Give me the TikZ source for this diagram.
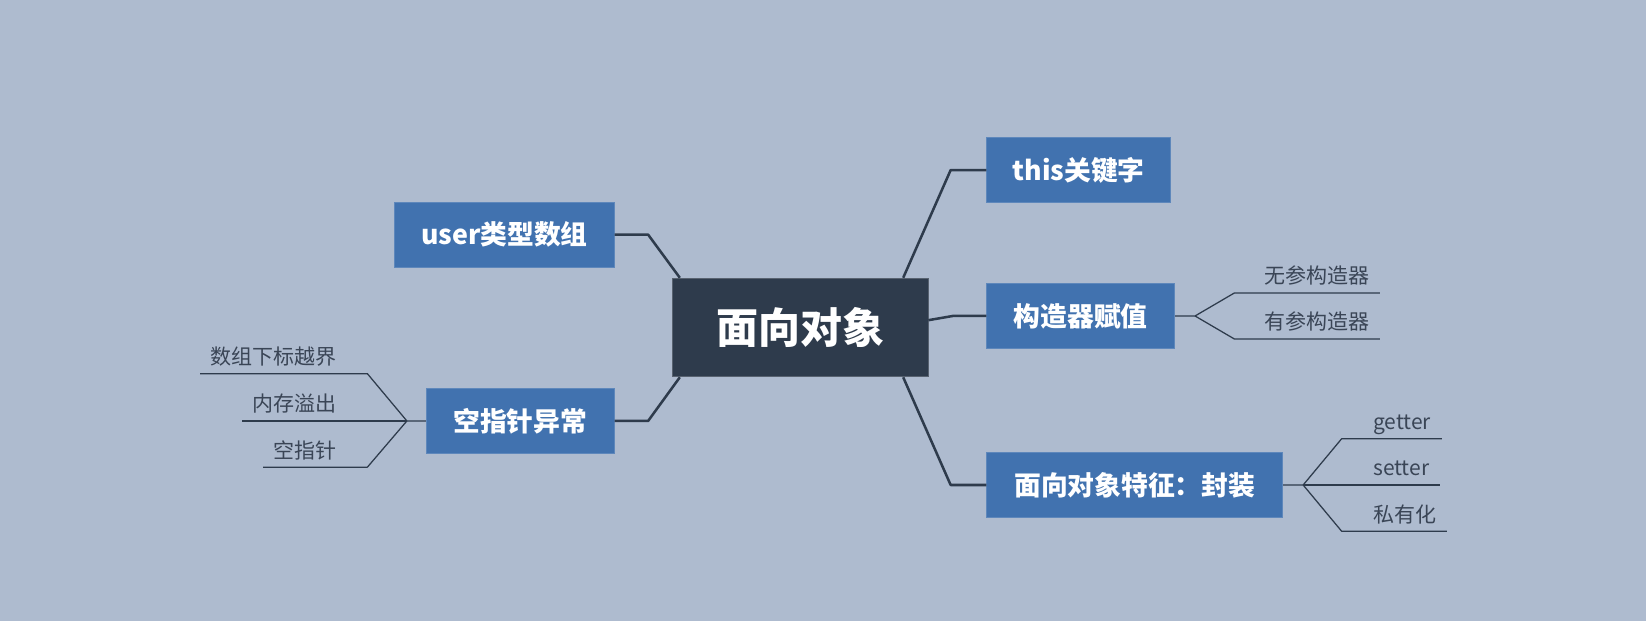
\documentclass[tikz,border=0pt]{standalone}
\usepackage{fontspec}
\setmainfont{Noto Sans CJK SC}
\usepackage{tikz}
\usetikzlibrary{positioning}

\definecolor{bgcol}{RGB}{174,187,207}
\definecolor{topicblue}{RGB}{65,114,175}
\definecolor{rootdark}{RGB}{46,59,76}
\definecolor{leaftext}{RGB}{58,69,86}

\begin{document}
\begin{tikzpicture}[x=1pt, y=-1pt,
    root/.style={fill=rootdark, draw=rootdark!80!white, line width=0.8pt, text=white,
        font=\fontsize{40}{46}\selectfont\bfseries, minimum width=243pt, minimum height=94pt},
    topic/.style={fill=topicblue, draw=topicblue!85!white, line width=0.8pt, text=white,
        font=\fontsize{25.5}{30}\selectfont\bfseries, minimum height=62pt},
    leaf/.style={text=leaftext, font=\fontsize{20}{24}\selectfont, inner xsep=10pt,
        inner ysep=6pt, text height=0.9em, text depth=0.25em},
    branch/.style={draw=rootdark, line width=2.4pt, line join=round},
    twig/.style={draw=rootdark, line width=1.2pt, line join=round}
]
    % Background
    \fill[bgcol] (0,0) rectangle (1568,592);
    \useasboundingbox (0,0) rectangle (1568,592);

    % Central topic
    \node[root] (main) at (762.5,312) {面向对象};

    % Main topics
    \node[topic, minimum width=175pt] (this) at (1027.5,162) {this关键字};
    \node[topic, minimum width=179pt] (ctor) at (1029.5,301) {构造器赋值};
    \node[topic, minimum width=282pt] (encap) at (1081,462) {面向对象特征：封装};
    \node[topic, minimum width=209pt] (user) at (480.5,223.5) {user类型数组};
    \node[topic, minimum width=179pt] (npe) at (495.5,401) {空指针异常};

    % Branches from the centre
    \draw[branch] ([xshift=-24pt]main.north east) -- ([xshift=-34pt]this.west) -- (this.west);
    \draw[branch] ([yshift=7pt]main.east) -- ([xshift=-32pt]ctor.west) -- (ctor.west);
    \draw[branch] ([xshift=-24pt]main.south east) -- ([xshift=-34pt]encap.west) -- (encap.west);
    \draw[branch] ([xshift=7pt]main.north west) -- ([xshift=32pt]user.east) -- (user.east);
    \draw[branch] ([xshift=7pt]main.south west) -- ([xshift=32pt]npe.east) -- (npe.east);

    % Sub topics of ctor
    \coordinate (ctorfork) at ([xshift=19pt]ctor.east);
    \node[leaf, anchor=south west] (noarg) at (1194,279) {无参构造器};
    \node[leaf, anchor=south west] (witharg) at (1194,323) {有参构造器};
    \draw[twig] (ctor.east) -- (ctorfork) -- ([xshift=-18pt]noarg.south west) -- (noarg.south east);
    \draw[twig] (ctorfork) -- ([xshift=-18pt]witharg.south west) -- (witharg.south east);

    % Sub topics of encap
    \coordinate (encapfork) at ([xshift=19pt]encap.east);
    \node[leaf, anchor=south west] (getter) at (1298,418) {getter};
    \node[leaf, anchor=south west] (setter) at (1298,462) {setter};
    \node[leaf, anchor=south west] (private) at (1298,506) {私有化};
    \draw[twig] (encap.east) -- (encapfork) -- ([xshift=-20pt]getter.south west) -- (getter.south east);
    \draw[twig] (encapfork) -- (setter.south east);
    \draw[twig] (encapfork) -- ([xshift=-20pt]private.south west) -- (private.south east);

    % Sub topics of npe
    \coordinate (npefork) at ([xshift=-18pt]npe.west);
    \node[leaf, anchor=south east] (index) at (331,356) {数组下标越界};
    \node[leaf, anchor=south east] (memory) at (331,401) {内存溢出};
    \node[leaf, anchor=south east] (nullptr) at (331,445) {空指针};
    \draw[twig] (npe.west) -- (npefork) -- ([xshift=19pt]index.south east) -- (index.south west);
    \draw[twig] (npefork) -- (memory.south west);
    \draw[twig] (npefork) -- ([xshift=19pt]nullptr.south east) -- (nullptr.south west);

\end{tikzpicture}
\end{document}
